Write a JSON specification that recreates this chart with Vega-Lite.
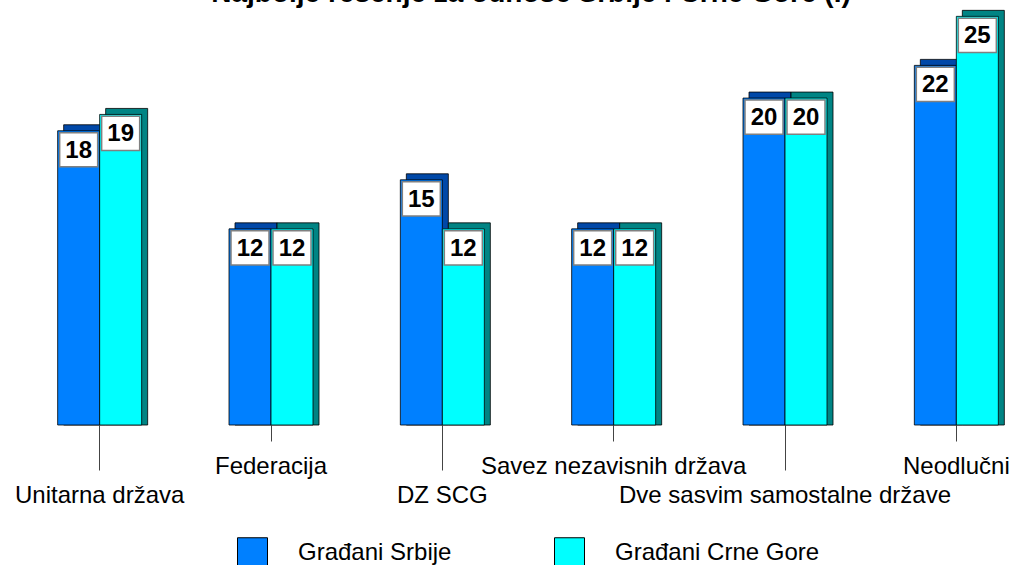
{
  "$schema": "https://vega.github.io/schema/vega-lite/v6.json",
  "width": 1000,
  "height": 425,
  "autosize": "none",
  "padding": {"left": 14, "top": 0, "right": 0, "bottom": 140},
  "background": "white",
  "title": {
    "text": "Najbolje rešenje za odnose Srbije i Crne Gore (I)",
    "font": "Liberation Sans",
    "fontSize": 28,
    "fontWeight": "bold",
    "color": "black",
    "anchor": "middle",
    "baseline": "alphabetic",
    "frame": "group",
    "offset": -30,
    "dx": 17
  },
  "config": {
    "view": {"stroke": null},
    "font": "Liberation Sans"
  },
  "data": {
    "values": [
      {"kategorija": "Unitarna država", "grupa": "Građani Srbije", "vrednost": 18},
      {"kategorija": "Unitarna država", "grupa": "Građani Crne Gore", "vrednost": 19},
      {"kategorija": "Federacija", "grupa": "Građani Srbije", "vrednost": 12},
      {"kategorija": "Federacija", "grupa": "Građani Crne Gore", "vrednost": 12},
      {"kategorija": "DZ SCG", "grupa": "Građani Srbije", "vrednost": 15},
      {"kategorija": "DZ SCG", "grupa": "Građani Crne Gore", "vrednost": 12},
      {"kategorija": "Savez nezavisnih država", "grupa": "Građani Srbije", "vrednost": 12},
      {"kategorija": "Savez nezavisnih država", "grupa": "Građani Crne Gore", "vrednost": 12},
      {"kategorija": "Dve sasvim samostalne države", "grupa": "Građani Srbije", "vrednost": 20},
      {"kategorija": "Dve sasvim samostalne države", "grupa": "Građani Crne Gore", "vrednost": 20},
      {"kategorija": "Neodlučni", "grupa": "Građani Srbije", "vrednost": 22},
      {"kategorija": "Neodlučni", "grupa": "Građani Crne Gore", "vrednost": 25}
    ]
  },
  "encoding": {
    "x": {
      "field": "kategorija",
      "type": "nominal",
      "sort": null,
      "scale": {"range": [0, 1028], "paddingInner": 0, "paddingOuter": 0},
      "axis": {
        "title": null,
        "domain": false,
        "ticks": true,
        "tickColor": "#444444",
        "tickWidth": 1,
        "tickSize": {"condition": {"test": "indexof(['Unitarna država','DZ SCG','Dve sasvim samostalne države'], datum.value) >= 0", "value": 45}, "value": 16},
        "labelPadding": 13,
        "labelAngle": 0,
        "labelFont": "Liberation Sans",
        "labelFontSize": 24,
        "labelColor": "black",
        "labelLimit": 500,
        "labelOverlap": false,
        "labelBound": false,
        "labelBaseline": "top"
      }
    },
    "y": {
      "field": "vrednost",
      "type": "quantitative",
      "scale": {"domain": [0, 26], "nice": false, "zero": true},
      "axis": null
    }
  },
  "layer": [
    {
      "transform": [{"filter": "datum.grupa === 'Građani Srbije'"}],
      "layer": [
        {
          "mark": {"type": "bar", "width": 42, "xOffset": -15, "yOffset": -6, "fill": "#0048A8", "stroke": "black", "strokeWidth": 0.8},
          "encoding": {"y2": {"datum": 0}}
        },
        {
          "mark": {"type": "bar", "width": 42, "xOffset": -21, "stroke": "black", "strokeWidth": 0.8, "opacity": 1},
          "encoding": {
            "y2": {"datum": 0},
            "color": {
              "field": "grupa",
              "type": "nominal",
              "scale": {"domain": ["Građani Srbije", "Građani Crne Gore"], "range": ["#0080FF", "#00FFFF"]},
              "legend": {
                "orient": "none",
                "legendX": 223,
                "legendY": 537,
                "direction": "horizontal",
                "title": null,
                "padding": 0,
                "symbolType": "square",
                "symbolSize": 900,
                "symbolStrokeColor": "black",
                "symbolStrokeWidth": 1,
                "symbolOpacity": 1,
                "labelFont": "Liberation Sans",
                "labelFontSize": 24,
                "labelColor": "black",
                "labelOffset": 30,
                "labelLimit": 400,
                "columnPadding": 100
              }
            }
          }
        },
        {
          "mark": {"type": "point", "shape": "M-1,-0.9H1V0.9H-1Z", "size": 1444, "filled": true, "fill": "white", "stroke": "#808080", "strokeWidth": 1.5, "opacity": 1, "xOffset": -21, "yOffset": 19}
        },
        {
          "mark": {"type": "text", "font": "Liberation Sans", "fontSize": 24, "fontWeight": "bold", "color": "black", "baseline": "middle", "align": "center", "xOffset": -21, "yOffset": 20},
          "encoding": {"text": {"field": "vrednost", "type": "quantitative"}}
        }
      ]
    },
    {
      "transform": [{"filter": "datum.grupa === 'Građani Crne Gore'"}],
      "layer": [
        {
          "mark": {"type": "bar", "width": 42, "xOffset": 27, "yOffset": -6, "fill": "#008484", "stroke": "black", "strokeWidth": 0.8},
          "encoding": {"y2": {"datum": 0}}
        },
        {
          "mark": {"type": "bar", "width": 42, "xOffset": 21, "stroke": "black", "strokeWidth": 0.8, "opacity": 1},
          "encoding": {
            "y2": {"datum": 0},
            "color": {
              "field": "grupa",
              "type": "nominal",
              "scale": {"domain": ["Građani Srbije", "Građani Crne Gore"], "range": ["#0080FF", "#00FFFF"]}
            }
          }
        },
        {
          "mark": {"type": "point", "shape": "M-1,-0.9H1V0.9H-1Z", "size": 1444, "filled": true, "fill": "white", "stroke": "#808080", "strokeWidth": 1.5, "opacity": 1, "xOffset": 21, "yOffset": 19}
        },
        {
          "mark": {"type": "text", "font": "Liberation Sans", "fontSize": 24, "fontWeight": "bold", "color": "black", "baseline": "middle", "align": "center", "xOffset": 21, "yOffset": 20},
          "encoding": {"text": {"field": "vrednost", "type": "quantitative"}}
        }
      ]
    }
  ]
}
